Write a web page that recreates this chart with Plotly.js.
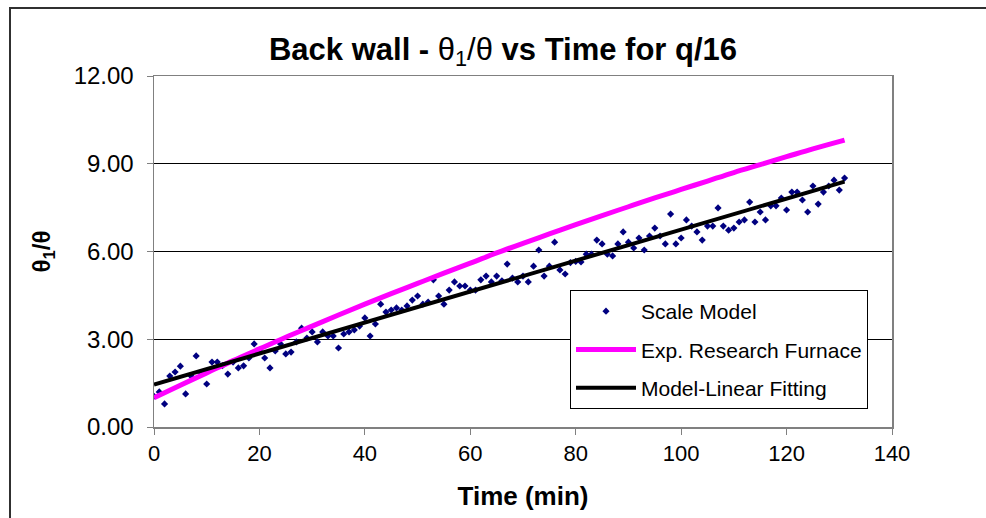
<!DOCTYPE html>
<html>
<head>
<meta charset="utf-8">
<script src="https://cdn.plot.ly/plotly-3.0.1.min.js"></script>
<style>html,body{margin:0;padding:0;background:#fff;}#chart{width:986px;height:518px;}</style>
</head>
<body>
<div id="chart"></div>
<script>
// Scale Model (one reading per minute, t = 0..131)
const scaleTime = [];
for (let i = 0; i <= 131; i++) scaleTime.push(i);
const scaleValues = [
  1.05, 1.20, 0.79, 1.74, 1.88, 2.08, 1.13, 1.75, 2.43, 1.81,
  1.47, 2.22, 2.22, 2.10, 1.81, 2.22, 2.02, 2.09, 2.36, 2.84,
  2.63, 2.36, 2.02, 2.60, 2.84, 2.50, 2.56, 2.91, 3.38, 3.04,
  3.25, 2.91, 3.25, 3.11, 3.11, 2.70, 3.18, 3.25, 3.32, 3.45,
  3.73, 3.11, 3.52, 4.20, 3.93, 4.00, 4.07, 4.00, 4.14, 4.34,
  4.48, 4.20, 4.27, 5.03, 4.48, 4.20, 4.68, 4.96, 4.82, 4.82,
  4.68, 4.68, 5.03, 5.16, 4.96, 5.16, 5.00, 5.57, 5.09, 4.96,
  5.16, 4.96, 5.50, 6.05, 5.16, 5.50, 6.32, 5.37, 5.23, 5.62,
  5.66, 5.64, 5.91, 5.91, 6.39, 6.26, 5.91, 5.85, 6.26, 6.67,
  6.32, 6.12, 6.46, 6.05, 6.53, 6.80, 6.53, 6.26, 7.28, 6.26,
  6.46, 7.08, 6.87, 6.67, 6.39, 6.87, 6.87, 7.49, 6.87, 6.73,
  6.80, 7.01, 7.08, 7.69, 7.01, 7.35, 7.08, 7.56, 7.56, 7.83,
  7.42, 8.03, 8.03, 7.76, 7.35, 8.24, 7.62, 8.03, 8.24, 8.44,
  8.10, 8.51
];

// Exp. Research Furnace
const furnaceTime = [0, 5, 10, 15, 20, 25, 30, 35, 40, 45, 50, 55, 60, 65, 70, 75, 80, 85, 90, 95, 100, 105, 110, 115, 120, 125, 131];
const furnaceValues = [1.00, 1.43, 1.85, 2.27, 2.67, 3.07, 3.45, 3.83, 4.20, 4.56, 4.91, 5.26, 5.60, 5.95, 6.28, 6.60, 6.92, 7.23, 7.53, 7.83, 8.12, 8.41, 8.70, 8.97, 9.24, 9.51, 9.81];

// Model-Linear Fitting
const fitTime = [0, 131];
const fitValues = [1.45, 8.39];

const xTicks = [0, 20, 40, 60, 80, 100, 120, 140];
const yTicks = [0, 3, 6, 9, 12];

const FONT = 'Arial, "Liberation Sans", sans-serif';

const traces = [
  {
    x: scaleTime, y: scaleValues, type: 'scatter', mode: 'markers', name: 'Scale Model',
    legendgroup: 'a',
    marker: {symbol: 'diamond', size: 5.5, color: '#000080'}
  },
  {
    x: furnaceTime, y: furnaceValues, type: 'scatter', mode: 'lines', name: 'Exp. Research Furnace',
    legendgroup: 'b', line: {color: '#FF00FF', width: 5, shape: 'spline'}
  },
  {
    x: fitTime, y: fitValues, type: 'scatter', mode: 'lines', name: 'Model-Linear Fitting',
    legendgroup: 'c', line: {color: '#000000', width: 4}
  }
];

const L = 154, R = 892, T = 76, B = 427, W = 986, H = 518;
const px = v => (v - L) / (R - L);
const py = v => (B - v) / (B - T);

const layout = {
  width: W, height: H,
  margin: {l: L, r: W - R, t: T, b: H - B, pad: 0},
  paper_bgcolor: '#ffffff', plot_bgcolor: '#ffffff',
  font: {family: FONT, color: '#000'},
  title: {
    text: '<b>Back wall - </b>θ<sub>1</sub>/θ<b> vs Time for q/16</b>',
    font: {family: FONT, size: 31, color: '#000'},
    xref: 'container', yref: 'container', x: 503 / W, y: 1 - 49 / H,
    xanchor: 'center', yanchor: 'middle'
  },
  xaxis: {
    range: [0, 140], tickvals: xTicks, ticktext: xTicks.map(String),
    showgrid: false, zeroline: false,
    showline: true, linecolor: '#808080', linewidth: 1.5, mirror: true,
    ticks: 'outside', ticklen: 6, tickcolor: '#808080', tickwidth: 1,
    tickfont: {family: FONT, size: 22, color: '#000'},
    title: {text: '<b>Time (min)</b>', font: {family: FONT, size: 26, color: '#000'}, standoff: 22}
  },
  yaxis: {
    range: [0, 12], tickvals: yTicks, ticktext: yTicks.map(v => v.toFixed(2)),
    showgrid: true, gridcolor: '#000000', gridwidth: 1, zeroline: false,
    showline: true, linecolor: '#808080', linewidth: 1.5, mirror: true,
    ticks: 'outside', ticklen: 6, tickcolor: '#808080', tickwidth: 1,
    ticklabelstandoff: 8,
    tickfont: {family: FONT, size: 24, color: '#000'},
    title: {text: '<b>θ<sub>1</sub>/θ</b>', font: {family: FONT, size: 24, color: '#000'}, standoff: 16}
  },
  showlegend: true,
  legend: {
    x: px(570), y: py(290), xanchor: 'left', yanchor: 'top',
    bgcolor: '#ffffff', bordercolor: '#000000', borderwidth: 1,
    font: {family: FONT, size: 21, color: '#000'},
    traceorder: 'grouped', tracegroupgap: 8, itemwidth: 60
  },
  shapes: [
    {type: 'rect', xref: 'paper', yref: 'paper', x0: px(10), x1: px(1010), y0: py(540), y1: py(8),
     line: {color: '#303030', width: 2}, fillcolor: 'rgba(0,0,0,0)', layer: 'below'}
  ]
};

Plotly.newPlot('chart', traces, layout, {displayModeBar: false, staticPlot: true});
</script>
</body>
</html>
